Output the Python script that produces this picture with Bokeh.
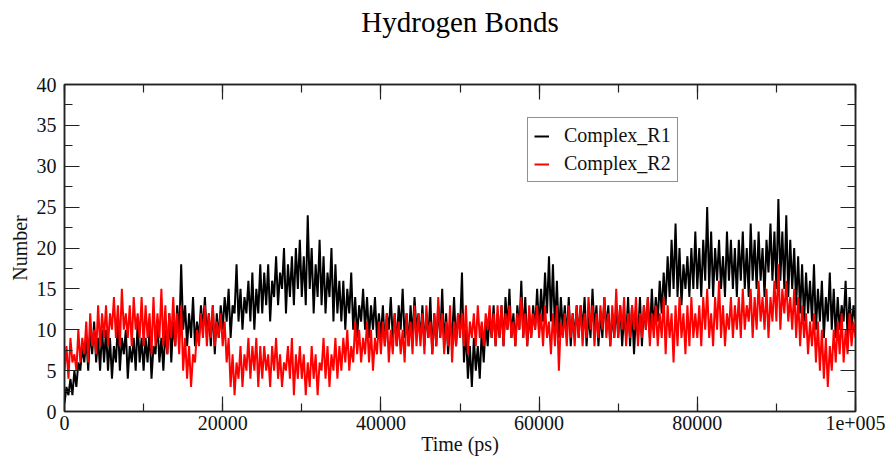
from bokeh.plotting import figure
from bokeh.models import (LinearAxis, SingleIntervalTicker, Legend, LegendItem, Range1d,
                          BasicTickFormatter, CustomJSTickFormatter)
from bokeh.embed import file_html
from bokeh.resources import INLINE

# Hydrogen bond counts (one value every 250 ps)
complex_r1 = [
    1, 3, 2, 4, 2, 5, 3, 6, 5, 8, 6, 9, 5, 10, 7, 11, 6, 9, 5, 10,
    6, 10, 5, 9, 4, 8, 6, 11, 5, 9, 7, 10, 4, 8, 6, 9, 5, 11, 6, 9,
    5, 9, 6, 10, 4, 8, 7, 11, 6, 9, 5, 10, 7, 12, 6, 11, 8, 13, 9, 18,
    10, 13, 8, 12, 9, 14, 8, 11, 9, 13, 10, 14, 9, 12, 8, 13, 7, 12, 9, 13,
    10, 14, 11, 15, 9, 13, 12, 18, 11, 15, 10, 14, 12, 16, 11, 17, 10, 15, 12, 18,
    12, 17, 13, 18, 11, 16, 14, 19, 13, 17, 15, 20, 12, 18, 14, 19, 13, 20, 15, 21,
    14, 19, 13, 24, 15, 20, 12, 18, 14, 21, 13, 19, 12, 17, 14, 20, 11, 18, 12, 16,
    11, 16, 10, 15, 12, 17, 10, 14, 9, 13, 11, 15, 10, 14, 9, 13, 10, 14, 9, 12,
    9, 13, 8, 12, 10, 14, 9, 12, 8, 13, 10, 15, 9, 12, 8, 13, 9, 14, 10, 12,
    9, 13, 8, 12, 9, 14, 7, 12, 8, 13, 9, 15, 8, 12, 7, 11, 9, 14, 8, 12,
    10, 17, 6, 10, 4, 8, 3, 9, 5, 8, 4, 10, 6, 11, 8, 12, 9, 13, 8, 12,
    9, 13, 8, 14, 10, 15, 9, 12, 8, 13, 10, 16, 9, 14, 8, 12, 9, 13, 10, 15,
    10, 15, 11, 17, 12, 19, 11, 18, 10, 16, 9, 14, 10, 13, 9, 14, 8, 12, 9, 13,
    9, 13, 10, 14, 8, 12, 9, 15, 10, 13, 8, 12, 9, 14, 10, 13, 8, 12, 9, 13,
    9, 13, 8, 12, 9, 14, 8, 13, 7, 12, 9, 14, 8, 13, 10, 14, 9, 15, 10, 14,
    11, 16, 12, 17, 13, 19, 14, 21, 15, 23, 14, 20, 13, 18, 15, 19, 14, 20, 15, 22,
    15, 20, 14, 21, 16, 25, 15, 22, 14, 20, 16, 21, 15, 19, 14, 22, 16, 21, 15, 20,
    14, 21, 16, 22, 15, 20, 14, 23, 16, 21, 15, 22, 16, 20, 14, 21, 17, 23, 16, 22,
    15, 26, 16, 22, 15, 24, 14, 21, 15, 20, 13, 19, 12, 18, 11, 17, 12, 16, 11, 18,
    10, 15, 11, 16, 9, 14, 11, 17, 10, 15, 9, 14, 10, 13, 11, 16, 9, 14, 10, 13,
    11,
]

complex_r2 = [
    5, 8, 4, 9, 6, 7, 5, 10, 6, 9, 7, 11, 6, 12, 8, 10, 7, 13, 8, 12,
    9, 13, 8, 12, 10, 14, 9, 13, 8, 15, 10, 12, 9, 13, 8, 14, 10, 12, 9, 14,
    8, 13, 9, 12, 7, 14, 8, 12, 9, 15, 8, 13, 7, 12, 9, 14, 8, 12, 7, 13,
    5, 9, 4, 8, 3, 7, 6, 10, 8, 12, 9, 13, 8, 12, 9, 13, 8, 11, 9, 12,
    8, 11, 6, 9, 3, 7, 2, 6, 4, 8, 3, 7, 5, 9, 4, 8, 5, 9, 3, 8,
    4, 8, 5, 7, 3, 8, 5, 9, 4, 7, 3, 6, 5, 8, 4, 9, 2, 7, 4, 8,
    4, 7, 2, 6, 3, 8, 4, 7, 2, 6, 5, 9, 4, 8, 3, 7, 5, 9, 4, 8,
    5, 9, 6, 10, 5, 8, 6, 11, 7, 10, 6, 9, 7, 11, 6, 10, 5, 9, 7, 11,
    7, 11, 8, 12, 6, 10, 7, 12, 8, 11, 7, 10, 6, 12, 8, 11, 7, 13, 8, 12,
    8, 12, 7, 13, 9, 11, 7, 12, 8, 14, 9, 12, 7, 11, 8, 13, 6, 11, 8, 12,
    9, 12, 8, 13, 7, 11, 9, 12, 8, 13, 9, 11, 8, 12, 10, 13, 9, 12, 8, 13,
    9, 13, 8, 12, 10, 13, 9, 11, 8, 12, 10, 14, 9, 12, 8, 13, 9, 12, 10, 13,
    9, 12, 8, 13, 9, 11, 7, 12, 8, 13, 5, 11, 9, 12, 8, 13, 9, 12, 8, 13,
    9, 13, 8, 12, 9, 14, 10, 13, 8, 12, 9, 13, 10, 14, 9, 12, 8, 13, 9, 15,
    9, 13, 10, 14, 8, 12, 9, 13, 10, 14, 8, 12, 9, 13, 10, 14, 8, 12, 9, 13,
    8, 12, 9, 14, 7, 13, 9, 12, 6, 13, 8, 14, 9, 12, 7, 13, 8, 14, 9, 12,
    9, 13, 8, 14, 10, 15, 9, 12, 8, 14, 10, 16, 9, 13, 8, 12, 10, 14, 9, 13,
    10, 14, 9, 15, 10, 13, 11, 15, 9, 14, 10, 16, 11, 14, 10, 15, 9, 14, 11, 16,
    11, 18, 10, 15, 12, 16, 11, 14, 10, 15, 9, 14, 8, 13, 9, 12, 7, 11, 8, 12,
    6, 11, 5, 10, 4, 9, 3, 8, 5, 10, 6, 11, 7, 12, 6, 10, 7, 12, 8, 11,
    9,
]

time_ps = [i * 250 for i in range(len(complex_r1))]

title_text = "Hydrogen Bonds"
x_label = "Time (ps)"
y_label = "Number"
series_names = ["Complex_R1", "Complex_R2"]
x_tick_overrides = {100000: "1e+005"}

FONT = "Liberation Serif"

p = figure(width=894, height=462, output_backend="svg", toolbar_location=None,
           x_range=Range1d(0, 100000), y_range=Range1d(0, 40),
           min_border_left=64, min_border_right=39, min_border_top=84,
           min_border_bottom=51)
p.background_fill_color = "white"
p.border_fill_color = "white"
p.outline_line_color = "#222222"
p.outline_line_width = 1.5
p.xgrid.visible = False
p.ygrid.visible = False

p.title.text = title_text
p.title.text_font = FONT
p.title.text_font_size = "29px"
p.title.text_font_style = "normal"
p.title.text_color = "black"
p.title.align = "center"
p.title.standoff = 0

r1 = p.line(time_ps, complex_r1, line_color="black", line_width=2.0)
r2 = p.line(time_ps, complex_r2, line_color="red", line_width=2.0)

def style(ax, show_labels):
    ax.axis_line_color = "#222222"
    ax.axis_line_width = 1.5
    ax.major_tick_line_color = "#222222"
    ax.minor_tick_line_color = "#222222"
    ax.major_tick_line_width = 1.2
    ax.minor_tick_line_width = 1.2
    ax.major_tick_in = 15
    ax.major_tick_out = 0
    ax.minor_tick_in = 8
    ax.minor_tick_out = 0
    ax.major_label_text_font = FONT
    ax.major_label_text_font_size = "20px"
    ax.major_label_text_color = "#111111"
    ax.axis_label_text_font = FONT
    ax.axis_label_text_font_size = "20px"
    ax.axis_label_text_font_style = "normal"
    ax.axis_label_text_color = "#111111"
    if show_labels:
        ax.formatter = BasicTickFormatter(use_scientific=False)
    else:
        ax.formatter = CustomJSTickFormatter(code="return '';")
        ax.major_label_standoff = 0

xa = p.xaxis[0]
xa.ticker = SingleIntervalTicker(interval=20000, num_minor_ticks=2)
style(xa, True)
xa.major_label_overrides = x_tick_overrides
xa.axis_label = x_label
xa.major_label_standoff = 4
xa.axis_label_standoff = 0

ya = p.yaxis[0]
ya.ticker = SingleIntervalTicker(interval=5, num_minor_ticks=2)
style(ya, True)
ya.axis_label = y_label
ya.major_label_standoff = 8
ya.axis_label_standoff = 3

# top axis: inward ticks only
top = LinearAxis(ticker=SingleIntervalTicker(interval=20000, num_minor_ticks=2))
style(top, False)
p.add_layout(top, "above")

# invisible spacer between the frame and the title
spacer = LinearAxis(ticker=SingleIntervalTicker(interval=20000, num_minor_ticks=0))
style(spacer, False)
spacer.axis_line_alpha = 0
spacer.major_tick_line_alpha = 0
spacer.minor_tick_line_alpha = 0
spacer.major_tick_in = 0
spacer.major_tick_out = 47
spacer.minor_tick_in = 0
spacer.minor_tick_out = 0
p.add_layout(spacer, "above")

right = LinearAxis(ticker=SingleIntervalTicker(interval=5, num_minor_ticks=2))
style(right, False)
p.add_layout(right, "right")

legend = Legend(items=[LegendItem(label=series_names[0], renderers=[r1]),
                       LegendItem(label=series_names[1], renderers=[r2])],
                location=(463, 229))
legend.label_text_font = FONT
legend.label_text_font_size = "20px"
legend.label_text_color = "#111111"
legend.glyph_width = 15
legend.glyph_height = 22
legend.label_height = 22
legend.label_standoff = 15
legend.spacing = 5
legend.padding = 6
legend.margin = 0
legend.border_line_color = "#222222"
legend.border_line_width = 1.2
legend.background_fill_color = "white"
legend.background_fill_alpha = 1
p.add_layout(legend, "center")

open("out.html", "w").write(file_html(p, INLINE))
